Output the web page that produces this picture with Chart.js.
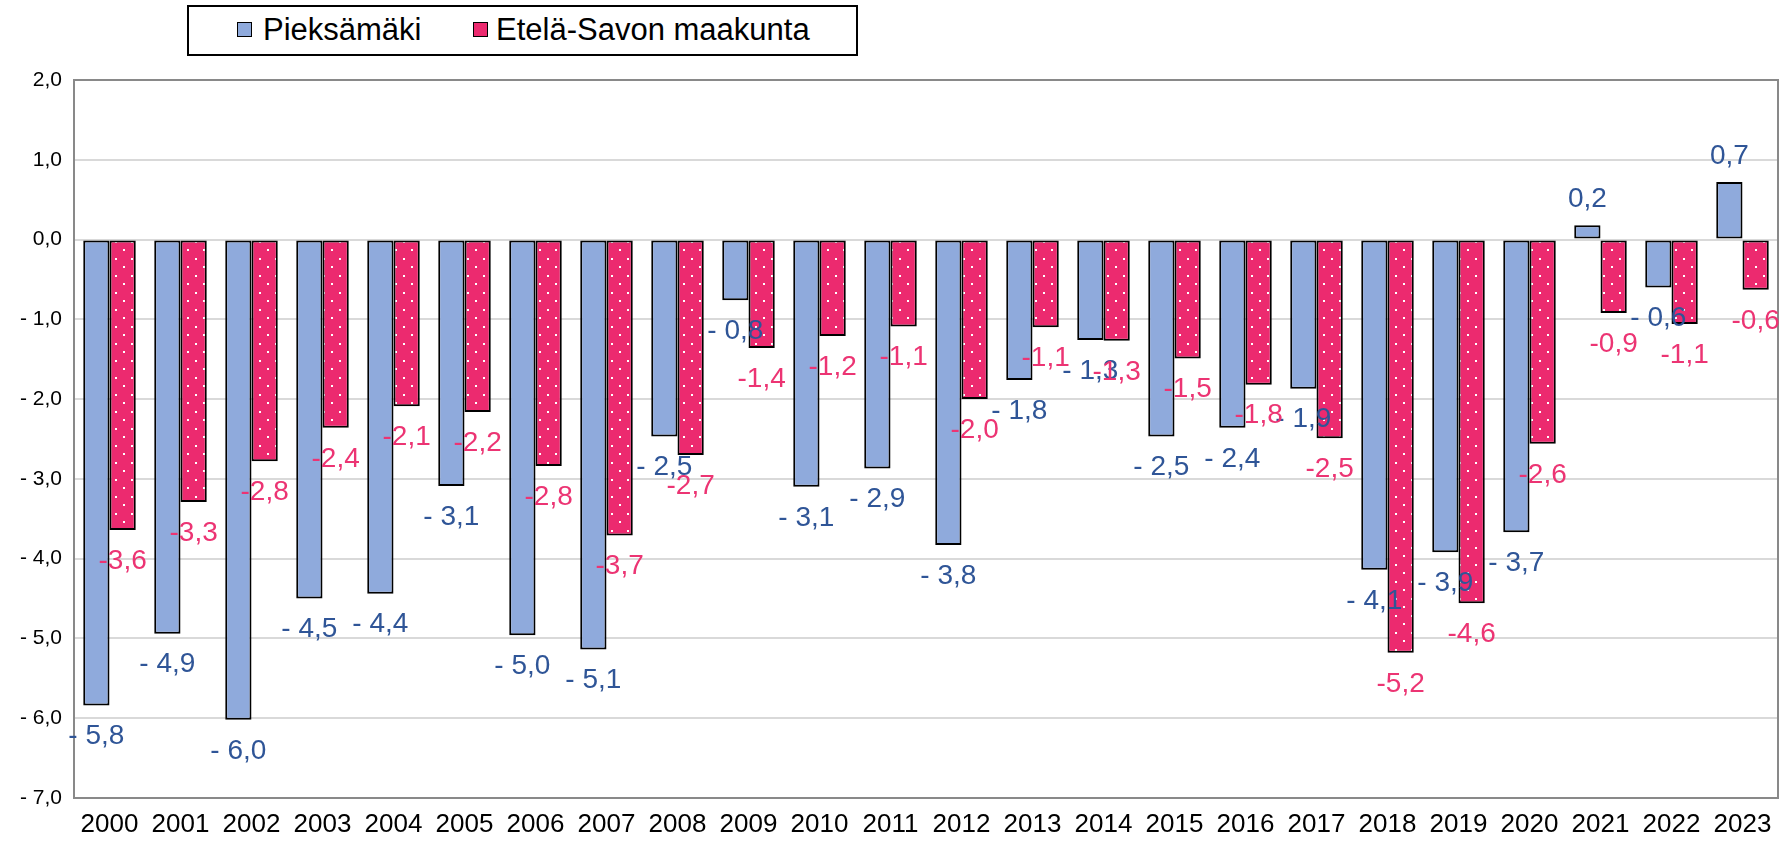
<!DOCTYPE html>
<html>
<head>
<meta charset="utf-8">
<script src="https://cdn.jsdelivr.net/npm/chart.js@4.4.1/dist/chart.umd.min.js"></script>
<style>
  html, body { margin: 0; padding: 0; background: #fff; }
  #wrap { position: absolute; left: 0; top: 0; width: 1787px; height: 846px; }
  #legend {
    position: absolute; left: 187px; top: 5px; width: 667px; height: 47px;
    border: 2px solid #000; background: #fff;
    font-family: "Liberation Sans", Arial, sans-serif; font-size: 31px; color: #000;
  }
  .item { position: absolute; top: 5px; line-height: 36px; white-space: nowrap; }
  .box { position: absolute; top: 15px; width: 13px; height: 13px; border: 1.5px solid #000; }
</style>
</head>
<body>
<div id="wrap"><canvas id="chart" width="1787" height="846"></canvas></div>
<div id="legend"></div>
<script>
// Väestönmuutos, % -- Pieksämäki vs Etelä-Savon maakunta
const years = ["2000","2001","2002","2003","2004","2005","2006","2007","2008","2009","2010","2011",
  "2012","2013","2014","2015","2016","2017","2018","2019","2020","2021","2022","2023"];
const pieksamaki = [-5.84,-4.94,-6.02,-4.50,-4.44,-3.09,-4.96,-5.14,-2.47,-0.76,-3.10,-2.87,
  -3.83,-1.76,-1.26,-2.47,-2.36,-1.87,-4.14,-3.92,-3.67,0.18,-0.60,0.72];
const etelaSavo = [-3.64,-3.29,-2.78,-2.36,-2.09,-2.16,-2.84,-3.71,-2.70,-1.36,-1.21,-1.09,
  -2.00,-1.10,-1.27,-1.49,-1.82,-2.49,-5.18,-4.56,-2.56,-0.92,-1.06,-0.63];
const seriesNames = ["Pieksämäki", "Etelä-Savon maakunta"];

const BLUE = "#8FAADC", PINK = "#EC2A6F";
const BLUE_TXT = "#2F5597", PINK_TXT = "#EC3473";
const FONT = "'Liberation Sans', Arial, sans-serif";

// dotted pink fill
function dotPattern() {
  const c = document.createElement("canvas");
  c.width = 16; c.height = 17;
  const g = c.getContext("2d");
  g.fillStyle = PINK; g.fillRect(0, 0, 16, 17);
  g.fillStyle = "#fff";
  g.fillRect(3, 3, 2, 2);
  g.fillRect(11, 11, 2, 2);
  return g.createPattern(c, "repeat");
}
const pinkFill = dotPattern();

// html legend
const legend = document.getElementById("legend");
legend.innerHTML =
  `<div class="box" style="left:48px;background:${BLUE}"></div>` +
  `<div class="item" style="left:74px">${seriesNames[0]}</div>` +
  `<div class="box" style="left:284px;background:${PINK}"></div>` +
  `<div class="item" style="left:307px">${seriesNames[1]}</div>`;

function fmt(v, spaced) {
  const s = Math.abs(v).toFixed(1).replace(".", ",");
  if (v < 0) return (spaced ? "- " : "-") + s;
  return s;
}

// value labels beside bar ends
const valueLabels = {
  id: "valueLabels",
  afterDatasetsDraw(chart) {
    const ctx = chart.ctx;
    ctx.save();
    ctx.font = "28px " + FONT;
    ctx.textAlign = "center";
    ctx.textBaseline = "middle";
    chart.data.datasets.forEach((ds, i) => {
      const meta = chart.getDatasetMeta(i);
      ctx.fillStyle = i === 0 ? BLUE_TXT : PINK_TXT;
      meta.data.forEach((el, j) => {
        const v = ds.data[j];
        const y = v < 0 ? el.y + 31 : el.y - 26;
        ctx.fillText(fmt(v, i === 0), el.x, y);
      });
    });
    ctx.restore();
  }
};

// grey frame round the plot area
const frame = {
  id: "frame",
  beforeDatasetsDraw(chart) {
    const a = chart.chartArea, ctx = chart.ctx;
    ctx.save();
    ctx.strokeStyle = "#898989";
    ctx.lineWidth = 2;
    ctx.strokeRect(a.left, a.top, a.right - a.left, a.bottom - a.top);
    ctx.restore();
  }
};

new Chart(document.getElementById("chart"), {
  type: "bar",
  data: {
    labels: years,
    datasets: [
      { label: seriesNames[0], data: pieksamaki, backgroundColor: BLUE,
        borderColor: "#000", borderWidth: 2, borderSkipped: false },
      { label: seriesNames[1], data: etelaSavo, backgroundColor: pinkFill,
        borderColor: "#000", borderWidth: 2, borderSkipped: false }
    ]
  },
  options: {
    responsive: false,
    animation: false,
    layout: { padding: { top: 80, right: 9, left: 0, bottom: 0 } },
    datasets: { bar: { categoryPercentage: 0.74, barPercentage: 1.0 } },
    plugins: { legend: { display: false }, tooltip: { enabled: false } },
    scales: {
      x: {
        grid: { display: false, drawTicks: false },
        border: { display: false },
        ticks: { color: "#000", font: { family: FONT, size: 26 }, padding: 11, maxRotation: 0, autoSkip: false },
        afterFit(s) { s.height = 48; }
      },
      y: {
        min: -7, max: 2,
        grid: { color: "#D9D9D9", lineWidth: 2, drawTicks: false },
        border: { display: false },
        ticks: { stepSize: 1, color: "#000", font: { family: FONT, size: 21 }, padding: 12,
          callback: v => fmt(v, true) },
        afterFit(s) { s.width = 74; }
      }
    }
  },
  plugins: [frame, valueLabels]
});
</script>
</body>
</html>
